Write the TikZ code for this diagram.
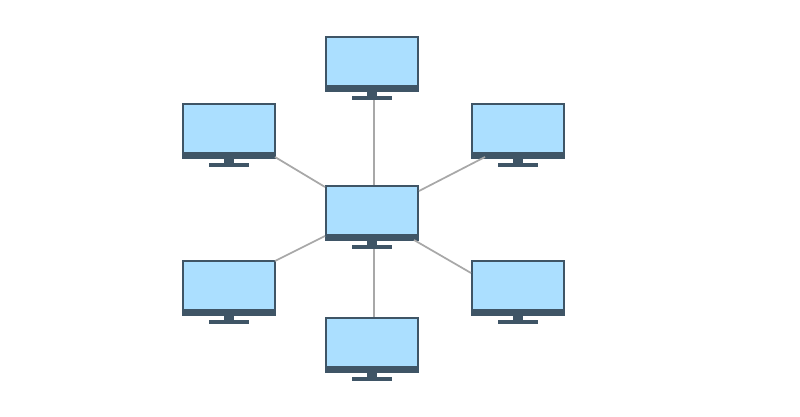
\documentclass[tikz,border=0pt]{standalone}
\usetikzlibrary{calc}
\definecolor{screenblue}{HTML}{ABDFFF}
\definecolor{bezel}{HTML}{3F5566}
\definecolor{wire}{HTML}{A8A8A8}
\tikzset{
  x=0.75pt,y=-0.75pt,
  screenbox/.style={draw=bezel,fill=screenblue,line width=1.9pt,minimum width=69pt,minimum height=40.5pt,inner sep=0pt,outer sep=0pt,rectangle,anchor=north west},
  bezelpart/.style={fill=bezel,draw=none},
  wireline/.style={draw=wire,line width=1.3pt}
}
\newcommand{\monitor}[3]{%
  \node[screenbox] (#1) at (#2+1,#3+1) {};
  \fill[bezelpart] (#2,#3+49) rectangle (#2+94,#3+55);
  \fill[bezelpart] (#2+42,#3+55) rectangle (#2+52,#3+60);
  \fill[bezelpart] (#2+27,#3+60) rectangle (#2+67,#3+64);
}
\begin{document}
\begin{tikzpicture}
\useasboundingbox (0,0) rectangle (800,417);
\fill[white] (0,0) rectangle (800,417);
\monitor{mc}{325}{185}
\monitor{mt}{325}{36}
\monitor{mtl}{182}{103}
\monitor{mtr}{471}{103}
\monitor{mbl}{182}{260}
\monitor{mbr}{471}{260}
\monitor{mb}{325}{317}
\draw[wireline] ($(mc.north)+(2,-1)$) -- ($(mt.south)+(2,9)$);
\draw[wireline] ($(mc.south)+(2,9)$) -- ($(mb.north)+(2,-1)$);
\draw[wireline] ($(mc.north west)+(-1,1)$) -- ($(mtl.south east)+(0,-1)$);
\draw[wireline] ($(mc.north east)+(1,5)$) -- ($(mtr.south west)+(13,-1)$);
\draw[wireline] ($(mc.south west)+(-1,-4)$) -- ($(mbl.north east)+(0,0)$);
\draw[wireline] ($(mc.south east)+(-4,0)$) -- ($(mbr.north west)+(-1,12)$);
\end{tikzpicture}
\end{document}
